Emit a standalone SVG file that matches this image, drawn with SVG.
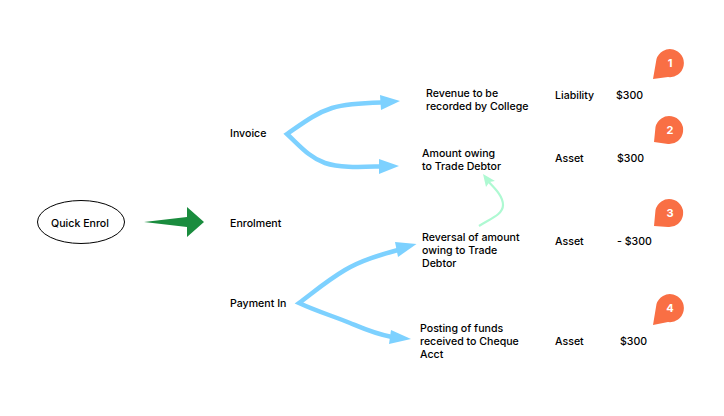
<svg xmlns="http://www.w3.org/2000/svg" width="724" height="416" viewBox="0 0 724 416">
<style>
text{font-family:Inter,"Noto Sans",sans-serif;font-size:10.6px;font-weight:500;fill:#000}
.c{fill:none;stroke:#7dd1ff;stroke-width:4.500;stroke-linejoin:miter}
.h{fill:#7dd1ff}
.m{fill:none;stroke:#aef9d2;stroke-width:2.200}
.b{fill:#f96f44}
.n{fill:#fff;font-weight:700;font-size:11px;text-anchor:middle}
</style>
<rect width="724" height="416" fill="#fff"/>
<g id="connectors">
<path class="c" d="M381,102.500C360,103 345,104 332,108C316,113 303,123 287,134C300,146 310,158 325,163C340,168 360,167 380,166.500"/>
<polygon class="h" points="380,95 400,101 381,110"/>
<polygon class="h" points="379,159 399,166 379,174"/>
<path class="c" d="M398,250C380,255 362,260 345,270C328,280 315,291 299,303C316,311 333,316 350,323C362,328 375,334 392,337"/>
<polygon class="h" points="395,242 416.500,244 398,257"/>
<polygon class="h" points="391,330 411,339 389,344"/>
<path class="m" d="M479,226C492,218 503,214 503,205C503,195 493,187 486,179"/>
<polygon points="483,174 495,181 489.500,182 486,187" fill="#aef9d2"/>
<polygon points="144,222 187,217 187,207 204,222 187,237 187,227" fill="#1a8c3e"/>
</g>
<g id="quick-enrol"><ellipse cx="81" cy="222" rx="43.500" ry="21.500" fill="#fff" stroke="#000"/><text x="80" y="227" text-anchor="middle">Quick Enrol</text></g>
<g id="invoice"><text x="230" y="137">Invoice</text></g>
<g id="enrolment"><text x="230" y="227">Enrolment</text></g>
<g id="payment-in"><text x="230" y="307">Payment In</text></g>
<g id="revenue"><text x="426" y="97">Revenue to be</text><text x="426" y="110">recorded by College</text></g>
<g id="amount-owing"><text x="422" y="157">Amount owing</text><text x="422" y="170">to Trade Debtor</text></g>
<g id="reversal"><text x="422" y="241">Reversal of amount</text><text x="422" y="254">owing to Trade</text><text x="422" y="267">Debtor</text></g>
<g id="posting"><text x="420" y="332">Posting of funds</text><text x="420" y="345">received to Cheque</text><text x="420" y="358">Acct</text></g>
<g id="row-1"><text x="555" y="99">Liability</text><text x="616" y="99">$300</text></g>
<g id="row-2"><text x="555" y="162">Asset</text><text x="617" y="162">$300</text></g>
<g id="row-3"><text x="555" y="245">Asset</text><text x="617" y="245">- $300</text></g>
<g id="row-4"><text x="555" y="345">Asset</text><text x="620" y="345">$300</text></g>
<g id="badge-1"><path class="b" d="M653,79L656.500,59A14,14 0 1 1 668,77Z"/><text class="n" x="670" y="67">1</text></g>
<g id="badge-2"><path class="b" d="M654,142L655.500,127A14,14 0 1 1 668,144Z"/><text class="n" x="670" y="134">2</text></g>
<g id="badge-3"><path class="b" d="M654,226L655.500,210A14,14 0 1 1 668,227Z"/><text class="n" x="670" y="217">3</text></g>
<g id="badge-4"><path class="b" d="M653,325L656.500,304A14,14 0 1 1 668,322Z"/><text class="n" x="670" y="312">4</text></g>
</svg>
